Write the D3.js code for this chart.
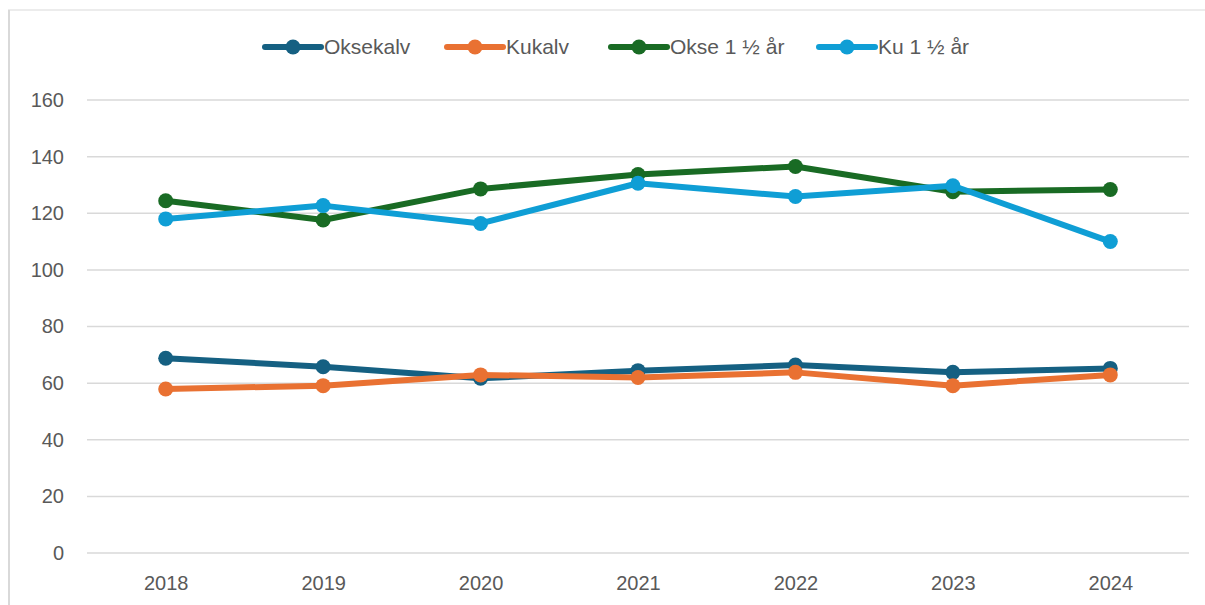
<!DOCTYPE html>
<html>
<head>
<meta charset="utf-8">
<script src="https://cdn.jsdelivr.net/npm/d3@7"></script>
<style>
  body { margin: 0; background: #fff; }
  svg { display: block; font-family: "Liberation Sans", Arial, sans-serif; }
</style>
</head>
<body>
<svg id="chart" width="1205" height="605"></svg>
<script>
// chart data
const years = ["2018", "2019", "2020", "2021", "2022", "2023", "2024"];
const seriesNames = ["Oksekalv", "Kukalv", "Okse 1 ½ år", "Ku 1 ½ år"];
const oksekalv = [68.8, 65.8, 61.7, 64.4, 66.4, 63.8, 65.2];
const kukalv   = [57.9, 59.1, 62.9, 62.0, 63.8, 59.1, 62.9];
const okse15   = [124.4, 117.6, 128.6, 133.7, 136.5, 127.6, 128.4];
const ku15     = [118.0, 122.7, 116.4, 130.6, 125.9, 129.7, 110.0];
const yTicks = [0, 20, 40, 60, 80, 100, 120, 140, 160];

const colors = ["#156082", "#E97132", "#196B24", "#0F9ED5"];
const allSeries = [oksekalv, kukalv, okse15, ku15];

const svg = d3.select("#chart");
const width = 1205, height = 605;
const margin = { left: 87, right: 16, top: 100, bottom: 52 };

// chart frame
svg.append("line").attr("x1", 8).attr("x2", width).attr("y1", 10).attr("y2", 10)
  .attr("stroke", "#d9d9d9").attr("stroke-width", 1.2);
svg.append("line").attr("x1", 9).attr("x2", 9).attr("y1", 10).attr("y2", height)
  .attr("stroke", "#d9d9d9").attr("stroke-width", 2);

const x = d3.scalePoint()
  .domain(years)
  .range([margin.left, width - margin.right])
  .padding(0.5);

const y = d3.scaleLinear()
  .domain([0, 160])
  .range([height - margin.bottom, margin.top]);

// gridlines
svg.append("g")
  .selectAll("line")
  .data(yTicks)
  .enter()
  .append("line")
  .attr("x1", margin.left)
  .attr("x2", width - margin.right)
  .attr("y1", d => y(d))
  .attr("y2", d => y(d))
  .attr("stroke", "#d9d9d9")
  .attr("stroke-width", 1.5);

// y labels
const yAxis = svg.append("g")
  .attr("transform", `translate(${margin.left - 23},0)`)
  .call(d3.axisLeft(y).tickValues(yTicks).tickSize(0).tickPadding(0));
yAxis.select(".domain").remove();
yAxis.selectAll("text")
  .attr("fill", "#595959")
  .attr("font-size", "20px")
  .attr("font-family", "Liberation Sans, Arial, sans-serif");

// x labels
const xAxis = svg.append("g")
  .attr("transform", `translate(0,${height - margin.bottom})`)
  .call(d3.axisBottom(x).tickSize(0).tickPadding(0));
xAxis.select(".domain").remove();
xAxis.selectAll("text")
  .attr("fill", "#595959")
  .attr("font-size", "20px")
  .attr("font-family", "Liberation Sans, Arial, sans-serif")
  .attr("dy", 0)
  .attr("y", 37);

// lines + markers
const line = d3.line()
  .x((d, i) => x(years[i]))
  .y(d => y(d));

allSeries.forEach((vals, si) => {
  const g = svg.append("g");
  g.append("path")
    .datum(vals)
    .attr("fill", "none")
    .attr("stroke", colors[si])
    .attr("stroke-width", 6)
    .attr("stroke-linejoin", "round")
    .attr("stroke-linecap", "round")
    .attr("d", line);
  g.selectAll("circle")
    .data(vals)
    .enter()
    .append("circle")
    .attr("cx", (d, i) => x(years[i]))
    .attr("cy", d => y(d))
    .attr("r", 7.5)
    .attr("fill", colors[si]);
});

// legend
const legendX = [265, 447, 611, 819];
const legendY = 47;
const legend = svg.append("g")
  .selectAll("g")
  .data(seriesNames)
  .enter()
  .append("g")
  .attr("transform", (d, i) => `translate(${legendX[i]},${legendY})`);
legend.append("line")
  .attr("x1", 0).attr("x2", 56)
  .attr("stroke", (d, i) => colors[i])
  .attr("stroke-width", 6)
  .attr("stroke-linecap", "round");
legend.append("circle")
  .attr("cx", 28).attr("r", 7.5)
  .attr("fill", (d, i) => colors[i]);
legend.append("text")
  .attr("x", 59)
  .attr("dy", "0.35em")
  .attr("font-size", "21px")
  .attr("fill", "#595959")
  .text(d => d);
</script>
</body>
</html>
